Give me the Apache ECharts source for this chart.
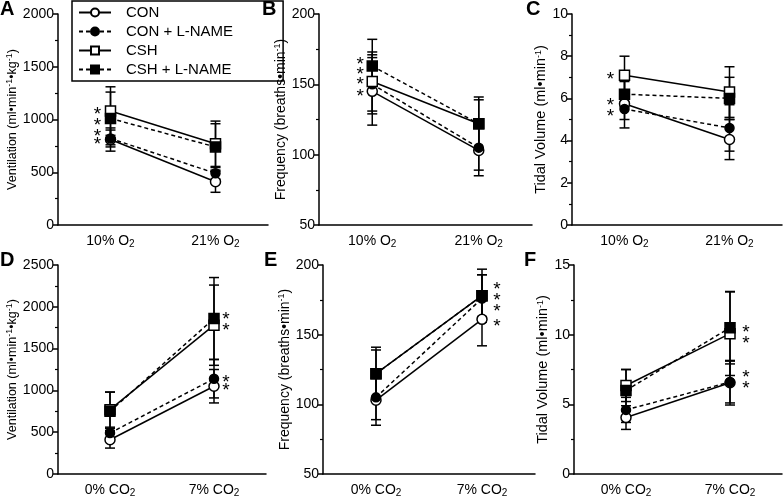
<!DOCTYPE html>
<html><head><meta charset="utf-8">
<script src="https://cdn.jsdelivr.net/npm/echarts@6/dist/echarts.min.js"></script>
<style>html,body{margin:0;padding:0;background:#fff}#c{width:783px;height:498px}</style>
</head><body><div id="c"></div>
<script>
// ---------------- DATA ----------------
const seriesNames = ['CON', 'CON + L-NAME', 'CSH', 'CSH + L-NAME'];
const o2Categories = ['10% O2', '21% O2'];
const co2Categories = ['0% CO2', '7% CO2'];

// Panel A: Ventilation, hypoxia (means per series, order = seriesNames)
const ventO2Means = [[810, 410], [820, 490], [1080, 770], [1010, 740]];
const ventO2Errs  = [[110, 100], [80, 55], [230, 215], [250, 220]];
const ventO2Stars = [1090, 989, 885, 806];

// Panel B: Frequency, hypoxia
const freqO2Means = [[145, 103], [150, 105], [152, 122], [163, 122]];
const freqO2Errs  = [[24, 18], [21, 16], [21, 17], [19, 19]];
const freqO2Stars = [167.8, 160.7, 153.2, 144.9];

// Panel C: Tidal volume, hypoxia
const tvO2Means = [[5.75, 4.05], [5.5, 4.6], [7.1, 6.3], [6.2, 6.0]];
const tvO2Errs  = [[1.15, 0.95], [0.5, 1.1], [0.9, 1.2], [0.6, 1.0]];
const tvO2Stars = [7.14, 5.9, 5.35];

// Panel D: Ventilation, hypercapnia
const ventCO2Means = [[410, 1050], [490, 1140], [770, 1780], [750, 1860]];
const ventCO2Errs  = [[100, 200], [55, 230], [210, 480], [230, 490]];
const ventCO2Stars = [1908, 1777, 1157, 1059];

// Panel E: Frequency, hypercapnia
const freqCO2Means = [[103, 161], [105, 176], [122, 178], [122, 178]];
const freqCO2Errs  = [[18, 19], [16, 17], [17, 15], [19, 19]];
const freqCO2Stars = [186, 177.9, 170.2, 159.3];

// Panel F: Tidal volume, hypercapnia
const tvCO2Means = [[4.05, 6.55], [4.6, 6.6], [6.35, 10.07], [6.0, 10.5]];
const tvCO2Errs  = [[0.85, 1.6], [0.9, 1.5], [1.15, 3.0], [1.5, 2.6]];
const tvCO2Stars = [10.5, 9.7, 7.25, 6.47];

// Axis tick settings
const ventO2Axis = [0, 2000, 500];
const freqAxis = [50, 200, 50];
const tvO2Axis = [0, 10, 2];
const ventCO2Axis = [0, 2500, 500];
const tvCO2Axis = [0, 15, 5];

// ---------------- LAYOUT / STYLE ----------------
const FONT = '"Liberation Sans", Arial, sans-serif';
const panels = [
  {letter:'A', lx:0,   ly:-1,  left:58,  top:14,  width:210, cats:o2Categories, ax:ventO2Axis, means:ventO2Means, errs:ventO2Errs, stars:ventO2Stars, starCat:0, starDx:-13, name:'Ventilation (ml•min{sup|-1}•kg{sup|-1})', gap:32, nfs:12.5},
  {letter:'B', lx:262, ly:-1,  left:319, top:14,  width:213, cats:o2Categories, ax:freqAxis, means:freqO2Means, errs:freqO2Errs, stars:freqO2Stars, starCat:0, starDx:-12, name:'Frequency (breaths•min{sup|-1})', gap:21, nfs:14},
  {letter:'C', lx:526, ly:-1,  left:572, top:14,  width:210, cats:o2Categories, ax:tvO2Axis, means:tvO2Means, errs:tvO2Errs, stars:tvO2Stars, starCat:0, starDx:-14, name:'Tidal Volume (ml•min{sup|-1})', gap:18, nfs:14.5},
  {letter:'D', lx:0,   ly:250, left:58,  top:265, width:208, cats:co2Categories, ax:ventCO2Axis, means:ventCO2Means, errs:ventCO2Errs, stars:ventCO2Stars, starCat:1, starDx:12, name:'Ventilation (ml•min{sup|-1}•kg{sup|-1})', gap:33, nfs:12.5},
  {letter:'E', lx:264, ly:250, left:323, top:265, width:212, cats:co2Categories, ax:freqAxis, means:freqCO2Means, errs:freqCO2Errs, stars:freqCO2Stars, starCat:1, starDx:15, name:'Frequency (breaths•min{sup|-1})', gap:28, nfs:14},
  {letter:'F', lx:524, ly:250, left:574, top:265, width:208, cats:co2Categories, ax:tvCO2Axis, means:tvCO2Means, errs:tvCO2Errs, stars:tvCO2Stars, starCat:1, starDx:16, name:'Tidal Volume (ml•min{sup|-1})', gap:22, nfs:14.5}
];
const symbols = ['circle', 'circle', 'rect', 'rect'];
const fills = ['#fff', '#000', '#fff', '#000'];
const sizes = [10, 9, 10, 10];
const dashes = ['solid', [4, 3], 'solid', [4, 3]];

function errRender(params, api) {
  const x = api.value(0), m = api.value(1), e = api.value(2);
  const t = api.coord([x, m + e]), b = api.coord([x, m - e]);
  const hw = 5, st = {stroke:'#000', lineWidth:1.5};
  return {type:'group', children:[
    {type:'line', shape:{x1:t[0], y1:t[1], x2:b[0], y2:b[1]}, style:st},
    {type:'line', shape:{x1:t[0]-hw, y1:t[1], x2:t[0]+hw, y2:t[1]}, style:st},
    {type:'line', shape:{x1:b[0]-hw, y1:b[1], x2:b[0]+hw, y2:b[1]}, style:st}
  ]};
}
function starRenderFactory(dx) {
  return function(params, api) {
    const p = api.coord([api.value(0), api.value(1)]);
    return {type:'text', x:p[0] + dx, y:p[1] + 5,
      style:{text:'*', font:'19px ' + FONT, fill:'#000', align:'center', verticalAlign:'middle'}};
  };
}
const subFmt = v => v.replace(/2$/, '{sub|2}');

const option = {
  animation:false,
  backgroundColor:'#fff',
  title: panels.map(p => ({text:p.letter, left:p.lx, top:p.ly, padding:0,
    textStyle:{fontSize:20, fontWeight:'bold', fontFamily:FONT, color:'#000'}})),
  legend: {
    data: seriesNames, orient:'vertical', left:72, top:1, width:163,
    padding:[4, 50, 4, 6], itemGap:4, itemWidth:32, itemHeight:10,
    borderColor:'#000', borderWidth:1.5, selectedMode:false,
    textStyle:{fontSize:15, fontFamily:FONT, color:'#000', padding:[0,0,0,10]}
  },
  grid: panels.map(p => ({left:p.left, top:p.top, width:p.width, height:211})),
  xAxis: panels.map((p, i) => ({
    type:'category', gridIndex:i, data:p.cats, boundaryGap:true,
    axisLine:{lineStyle:{color:'#000', width:1.5}},
    axisTick:{alignWithLabel:true, length:5, lineStyle:{color:'#000', width:1.5}},
    axisLabel:{interval:0, color:'#000', fontSize:14, fontFamily:FONT, margin:8, formatter:subFmt,
      rich:{sub:{fontSize:10, fontFamily:FONT, color:'#000', verticalAlign:'bottom', padding:[6,0,0,0]}}},
    splitLine:{show:false}
  })),
  yAxis: panels.map((p, i) => ({
    type:'value', gridIndex:i, min:p.ax[0], max:p.ax[1], interval:p.ax[2],
    name:p.name, nameLocation:'middle', nameGap:p.gap, nameRotate:90,
    nameTextStyle:{fontSize:p.nfs, fontFamily:FONT, color:'#000',
      rich:{sup:{fontSize:9, fontFamily:FONT, color:'#000', verticalAlign:'top', padding:[0,0,6,0]}}},
    axisLine:{show:true, lineStyle:{color:'#000', width:1.5}},
    axisTick:{show:true, length:5, lineStyle:{color:'#000', width:1.5}},
    minorTick:{show:true, splitNumber:2, length:3, lineStyle:{color:'#000', width:1.2}},
    axisLabel:{color:'#000', fontSize:14, fontFamily:FONT, margin:4, formatter: v => String(v)},
    splitLine:{show:false}
  })),
  series: []
};

panels.forEach((p, i) => {
  const errData = [];
  p.means.forEach((m, s) => m.forEach((v, c) => errData.push([c, v, p.errs[s][c]])));
  option.series.push({type:'custom', xAxisIndex:i, yAxisIndex:i, data:errData,
    renderItem:errRender, z:1, silent:true});
  p.means.forEach((m, s) => {
    option.series.push({
      type:'line', name:seriesNames[s], xAxisIndex:i, yAxisIndex:i, data:m, z:2 + s,
      symbol:symbols[s], symbolSize:sizes[s], showSymbol:true,
      itemStyle:{color:fills[s], borderColor:'#000', borderWidth:1.5},
      lineStyle:{color:'#000', width:1.5, type:dashes[s]},
      emphasis:{disabled:true}
    });
  });
  option.series.push({type:'custom', xAxisIndex:i, yAxisIndex:i,
    data:p.stars.map(v => [p.starCat, v]), renderItem:starRenderFactory(p.starDx), z:10, silent:true});
});

const chart = echarts.init(document.getElementById('c'), null, {renderer:'canvas'});
chart.setOption(option);
</script></body></html>
